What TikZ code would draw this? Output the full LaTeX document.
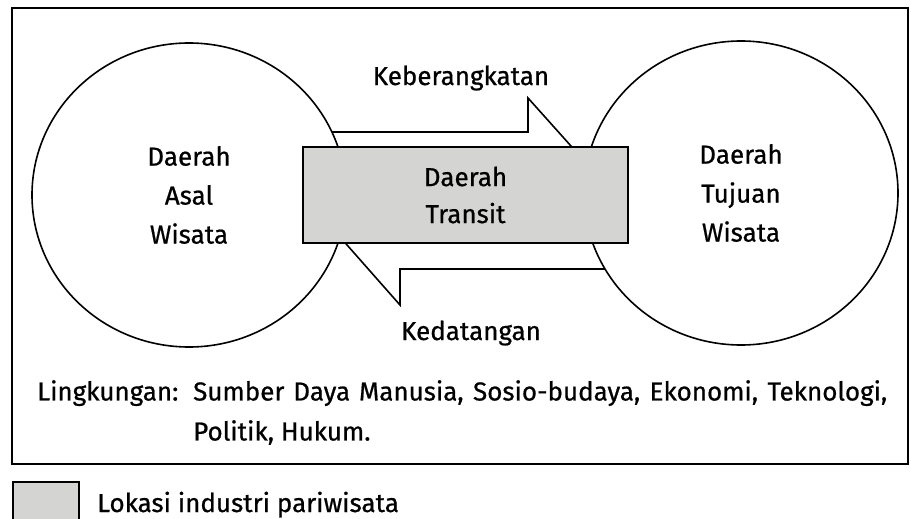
\documentclass[tikz,border=0pt]{standalone}
\usepackage{fontspec}
\setmainfont{Fira Sans}[FakeBold=0.7]
\usetikzlibrary{shapes.geometric, positioning}

\begin{document}
\begin{tikzpicture}[x=1pt, y=-1pt,
    region/.style={draw, line width=1.6pt, fill=white, ellipse, inner sep=0pt,
      minimum width=314pt, minimum height=304pt, align=center,
      font=\fontsize{26}{39}\selectfont},
    blockarrow/.style={draw, line width=1.6pt, fill=white, line join=miter},
    label/.style={font=\fontsize{26}{40}\selectfont, inner sep=0pt}]
    % Colours
    \definecolor{transitgray}{RGB}{212,212,210}
    \useasboundingbox (0,0) rectangle (911,519);

    % Outer frame
    \draw[line width=1.9pt] (12,8) rectangle (908,464);

    % Block arrows (ends hidden under the circles and the box)
    \draw[blockarrow] (250,132) -- (528,132) -- (528,98) -- (588,165)
      -- (528,232) -- (528,198) -- (250,198) -- cycle;
    \draw[blockarrow] (680,269) -- (400,269) -- (400,305) -- (340,237)
      -- (400,169) -- (400,205) -- (680,205) -- cycle;

    % Regions
    \node[region] (origin) at (189,195) {Daerah\\Asal\\Wisata};
    \node[region] (destination) at (741,193) {Daerah\\Tujuan\\Wisata};

    % Transit box
    \node[draw, line width=1.6pt, fill=transitgray, minimum width=325pt,
      minimum height=96pt, inner sep=0pt, align=center,
      font=\fontsize{26}{37}\selectfont] (transit) at (465.5,195) {Daerah\\Transit};

    % Arrow labels
    \node[label, anchor=base] (depart) at (461,85) {Keberangkatan};
    \node[label, anchor=base] (arrive) at (471,340) {Kedatangan};

    % Environment
    \node[label, anchor=north west, text width=150pt] (env) at (37,380) {Lingkungan:};
    \node[label, anchor=north west, text width=694pt, align=justify] (envlist) at (193,380)
      {Sumber Daya Manusia, Sosio-budaya, Ekonomi, Teknologi,\linebreak Politik, Hukum.};

    % Legend
    \node[draw, line width=1.9pt, fill=transitgray, anchor=north west,
      minimum width=66pt, minimum height=50pt] (key) at (12,481) {};
    \node[label, anchor=base west] (keytext) at (97,512) {Lokasi industri pariwisata};
\end{tikzpicture}
\end{document}
